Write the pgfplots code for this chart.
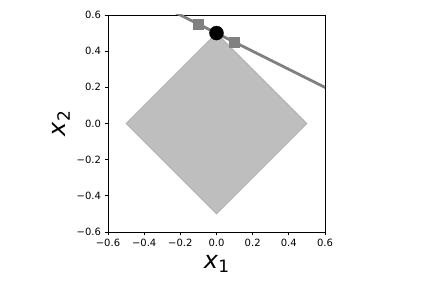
\documentclass[border=0pt]{standalone}
\usepackage{pgfplots}
\pgfplotsset{compat=1.18}
\usepackage{fontspec}
\setmainfont{DejaVu Sans}
\begin{document}
\begin{tikzpicture}
\path[use as bounding box] (0,0) rectangle (432bp,288bp);
\begin{axis}[
  at={(108bp,56bp)}, anchor=south west,
  width=217bp, height=217bp, scale only axis,
  xmin=-0.6, xmax=0.6, ymin=-0.6, ymax=0.6,
  xtick={-0.6,-0.4,-0.2,0,0.2,0.4,0.6}, ytick={-0.6,-0.4,-0.2,0,0.2,0.4,0.6},
  xticklabels={−0.6,−0.4,−0.2,0.0,0.2,0.4,0.6},
  yticklabels={−0.6,−0.4,−0.2,0.0,0.2,0.4,0.6},
  tick label style={font=\fontsize{10bp}{12bp}\selectfont},
  tick align=outside, tick pos=left,
  major tick length=3.5bp,
  axis line style={line width=0.8bp},
  every tick/.style={black, line width=0.8bp},
  xlabel={\fontsize{24bp}{28bp}\selectfont\textit{x}\raisebox{-0.3ex}{\fontsize{17bp}{17bp}\selectfont 1}},
  ylabel={\fontsize{24bp}{28bp}\selectfont\textit{x}\raisebox{-0.3ex}{\fontsize{17bp}{17bp}\selectfont 2}},
  xlabel style={yshift=-2bp},
  ylabel style={yshift=0bp},
  clip=true,
]
\addplot[fill={rgb,255:red,190;green,190;blue,190}, draw={rgb,255:red,170;green,170;blue,170}, line width=0.8bp] coordinates {(0.5,0) (0,0.5) (-0.5,0) (0,-0.5) (0.5,0)} -- cycle;
\addplot[color={rgb,255:red,128;green,128;blue,128}, line width=2.8bp] coordinates {(-1,1) (1,0)};
\addplot[only marks, mark=square*, mark size=5bp, color={rgb,255:red,128;green,128;blue,128}] coordinates {(-0.1,0.55) (0.1,0.45)};
\addplot[only marks, mark=*, mark size=7bp, color=black] coordinates {(0,0.5)};
\end{axis}
\end{tikzpicture}
\end{document}
